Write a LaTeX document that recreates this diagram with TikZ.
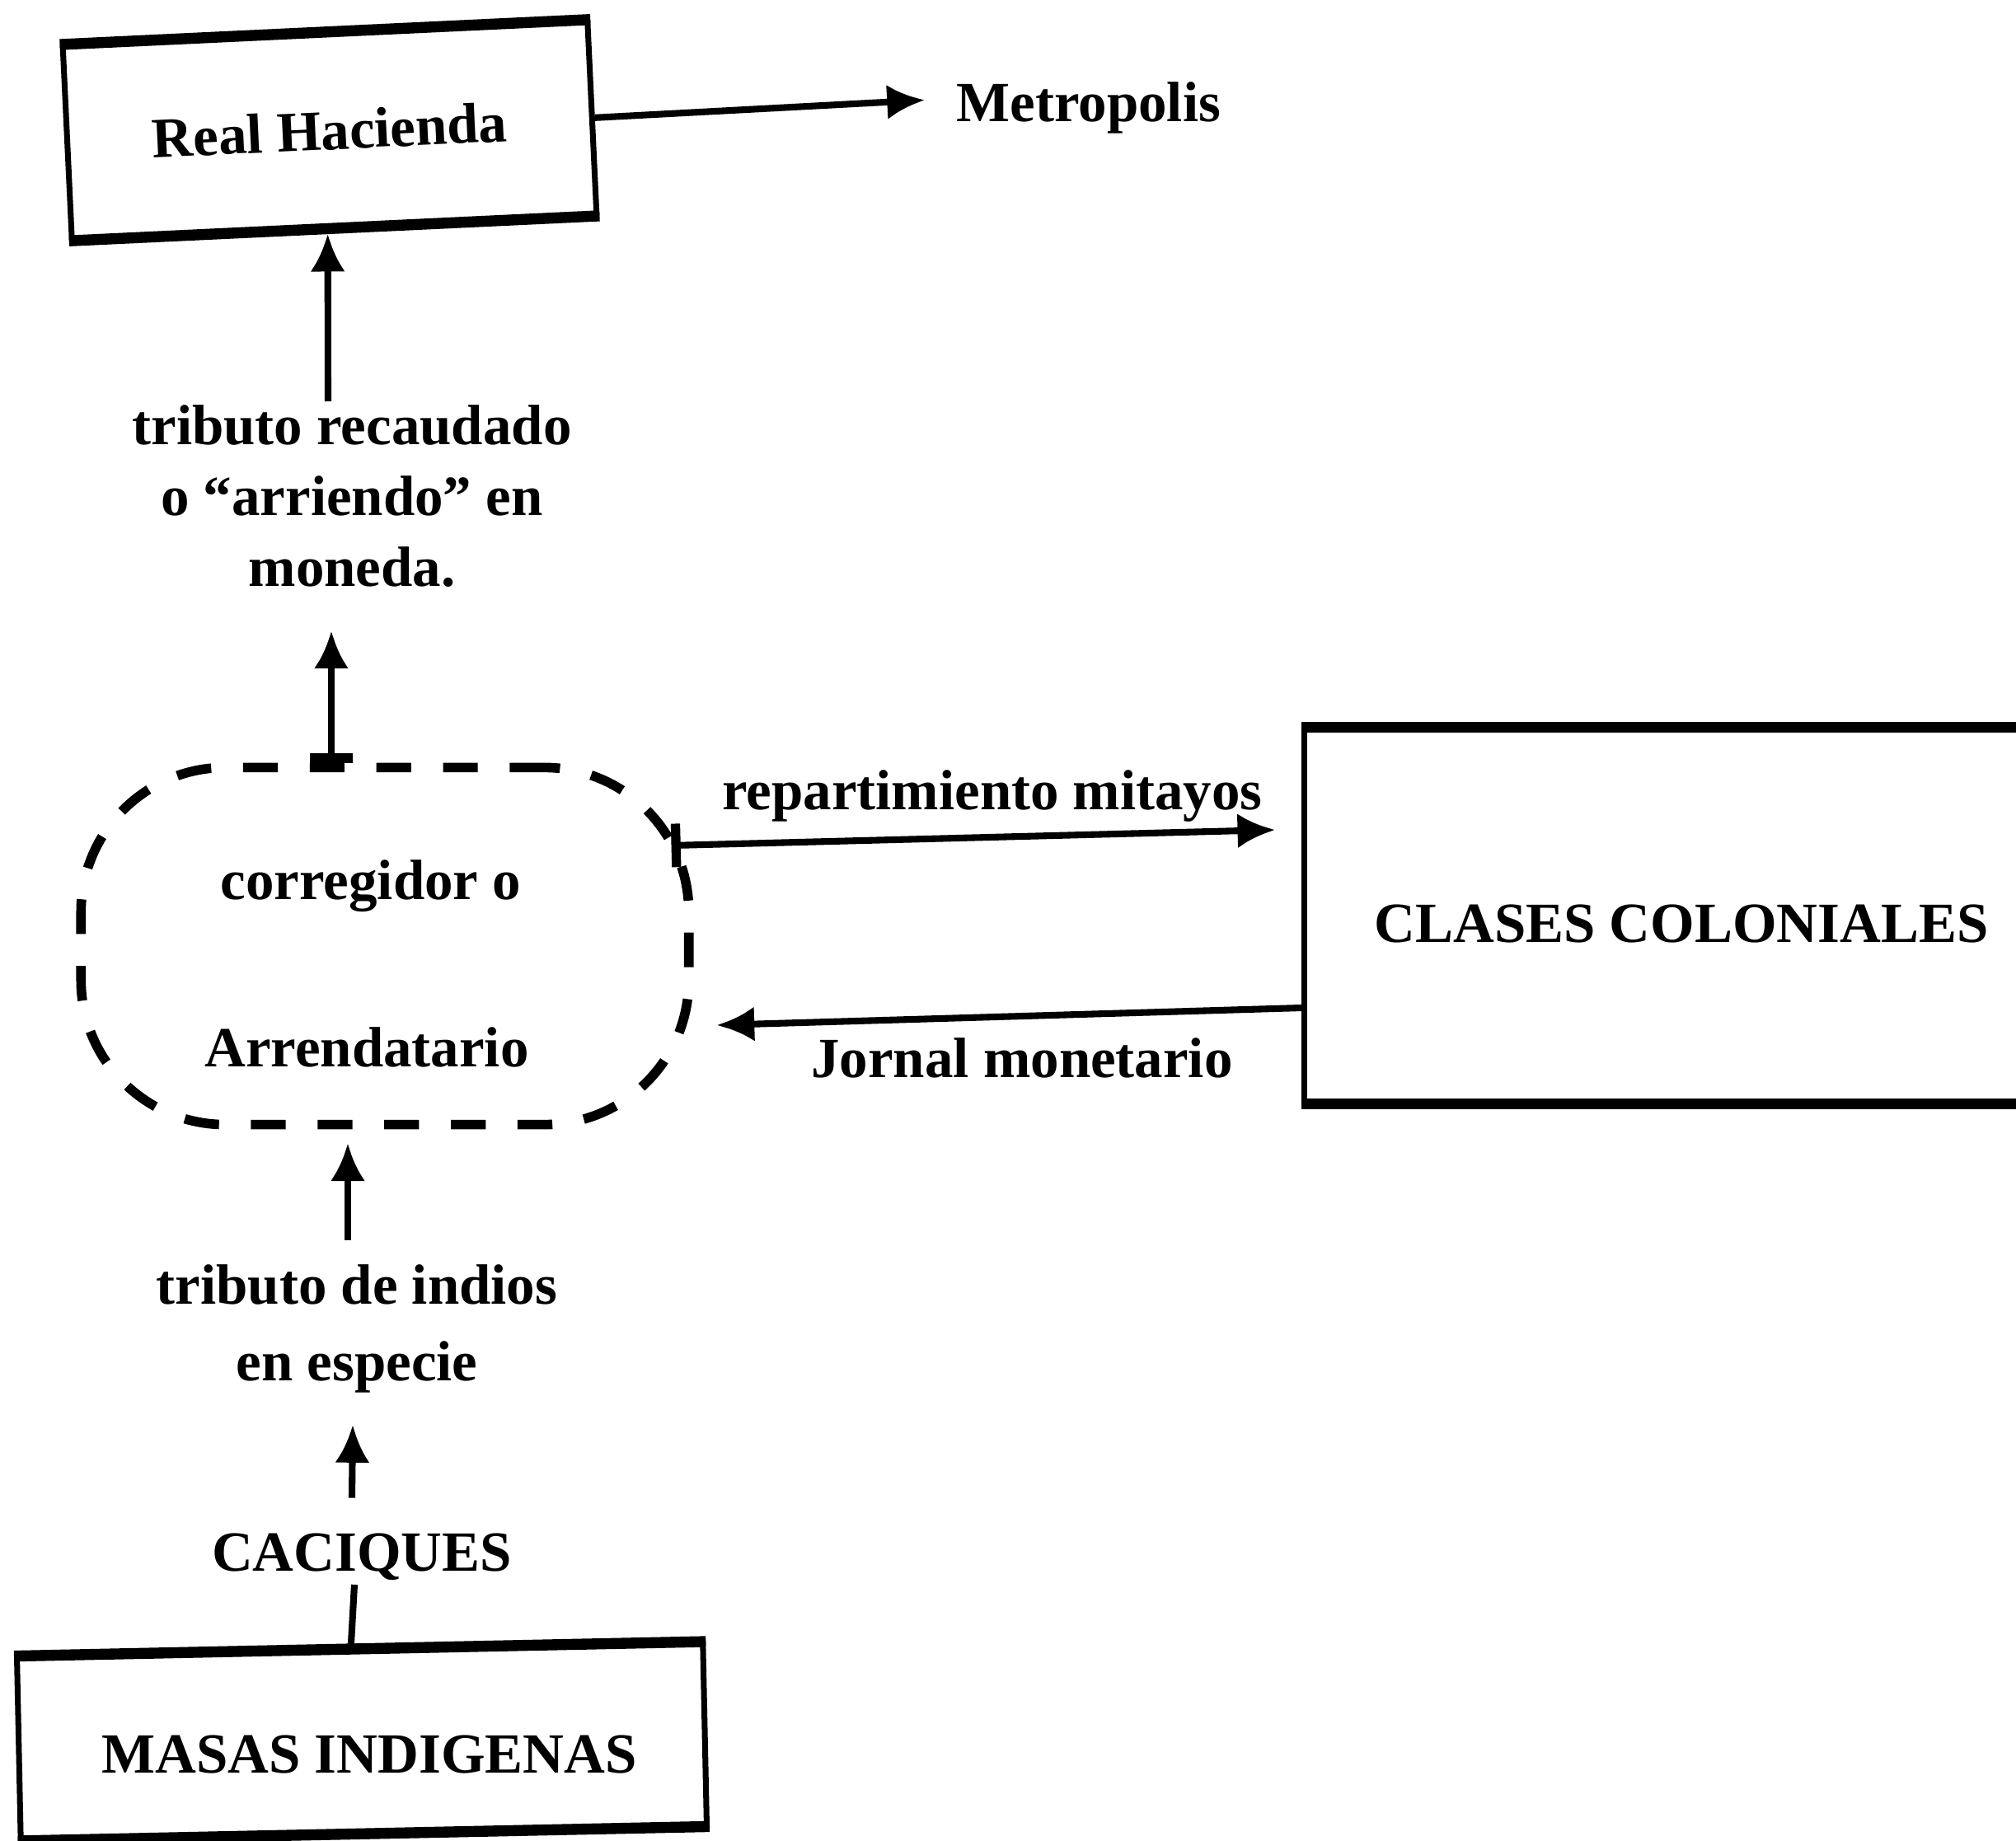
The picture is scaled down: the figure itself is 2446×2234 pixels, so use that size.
\documentclass[tikz,border=0pt]{standalone}
\usepackage{fontspec}
\setmainfont{Liberation Serif}
\usetikzlibrary{arrows.meta,calc}
\begin{document}
\begin{tikzpicture}[x=0.01cm,y=-0.01cm,
  txt/.style={font=\fontsize{19.6}{24.5}\selectfont\bfseries, inner sep=0pt},
  box/.style={draw, line width=2pt, inner sep=0pt},
  boxedge/.style={line width=3.6pt, line cap=square},
  arr/.style={line width=2.3pt, -{Latex[length=13pt,width=12pt]}},
  barr/.style={line width=2.3pt, {Bar[width=15pt,line width=3.2pt]}-{Latex[length=13pt,width=12pt]}},
  plain/.style={line width=2.3pt},
  oval/.style={draw, line width=3.3pt, dash pattern=on 12pt off 11pt, rounded corners=1.75cm, minimum width=7.37cm, minimum height=4.33cm, inner sep=0pt}
]
\useasboundingbox (0,0) rectangle (2446,2234);
\clip (0,0) rectangle (2446,2234);

% Real Hacienda
\node[box, txt, rotate=2.7, minimum width=6.37cm, minimum height=2.32cm] (rh) at (400,158) {Real Hacienda};
\draw[boxedge] (rh.north west) -- (rh.north east);
\draw[boxedge] (rh.south west) -- (rh.south east);
\node[txt, anchor=base west] (metro) at (1160,148) {Metropolis};
\draw[arr] (rh.east) -- ($(metro.west)+(-38,-10)$);

% tributo recaudado
\node[txt, align=center, anchor=north] (trib) at (427,491) {tributo recaudado\\o “arriendo” en\\moneda.};
\draw[arr, shorten >=1.8pt] ($(trib.north)+(-29,-4)$) -- ($(rh.south)+(-8,0)$);

% corregidor / arrendatario
\node[oval] (cor) at (467,1148) {};
\node[txt, anchor=base] (cor1) at (450,1091) {corregidor o};
\node[txt, anchor=base] (cor2) at (445,1294) {Arrendatario};
\draw[barr] ($(cor.north)+(-65,0)$) -- ($(trib.south)+(-25,52)$);

% clases coloniales
\node[box, minimum width=8.87cm, minimum height=4.5cm] (cl) at (2026.5,1111) {};
\draw[boxedge] (cl.north west) -- (cl.north east);
\draw[boxedge] (cl.south west) -- (cl.south east);
\node[txt, anchor=base] (clt) at (2040,1143) {CLASES COLONIALES};
\draw[barr] ($(cor.east)+(-27,-122)$) -- ($(cl.west)+(-32,-104)$);
\node[txt, anchor=base] (rep) at (1204,982) {repartimiento mitayos};
\draw[arr] ($(cl.west)+(0,112)$) -- ($(cor.east)+(28,96)$);
\node[txt, anchor=base] (jor) at (1240,1307) {Jornal monetario};

% bottom
\node[txt, align=center, anchor=north] (tdi) at (433,1534) {tributo de indios\\[2pt]en especie};
\draw[arr] ($(tdi.north)+(-11,-29)$) -- ($(cor.south)+(-45,17)$);
\node[txt, anchor=base] (caq) at (439,1906) {CACIQUES};
\draw[arr] ($(caq.north)+(-12,-42)$) -- ($(tdi.south)+(-5,38)$);
\node[box, rotate=1.2, minimum width=8.32cm, minimum height=2.18cm] (mi) at (439,2113) {};
\draw[boxedge] (mi.north west) -- (mi.north east);
\draw[boxedge] (mi.south west) -- (mi.south east);
\node[txt, anchor=base] (mit) at (448,2151) {MASAS INDIGENAS};
\draw[plain] ($(caq.south)+(-9,5)$) -- ($(mi.north)+(-11,0)$);
\end{tikzpicture}
\end{document}
